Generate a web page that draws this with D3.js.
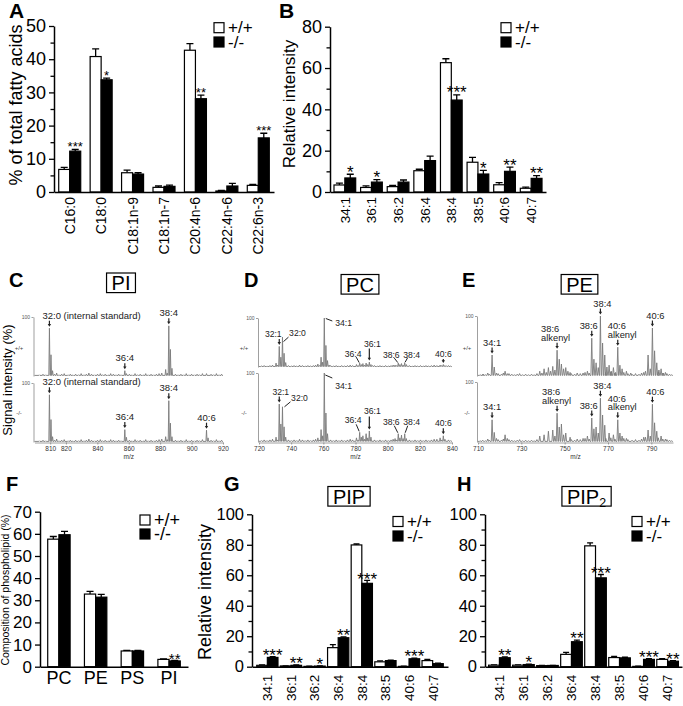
<!DOCTYPE html>
<html><head><meta charset="utf-8">
<script src="https://cdn.jsdelivr.net/npm/d3@7/dist/d3.min.js"></script>
<style>html,body{margin:0;padding:0;background:#fff}svg{display:block}</style>
</head><body>
<svg id="fig" width="683" height="706" xmlns="http://www.w3.org/2000/svg"></svg>
<script>
// ================= DATA =================
const legendLabels = ["+/+", "-/-"];

// A: fatty acid composition (% of total fatty acids)
const faCategories = ["C16:0","C18:0","C18:1n-9","C18:1n-7","C20:4n-6","C22:4n-6","C22:6n-3"];
const faWT    = [6.8, 40.8, 5.8, 1.4, 42.7, 0.3, 2.0];
const faWTErr = [0.6, 2.3, 0.8, 0.4, 2.0, 0.2, 0.3];
const faKO    = [12.3, 33.8, 5.4, 1.7, 28.1, 1.8, 16.3];
const faKOErr = [0.5, 0.5, 0.4, 0.4, 1.1, 0.8, 1.4];
const faSig   = ["***","*","","","**","","***"];
const faTicks = [0,10,20,30,40,50];
const faMinor = [5,15,25,35,45];

// B: PI molecular species (relative intensity)
const speciesCategories = ["34:1","36:1","36:2","36:4","38:4","38:5","40:6","40:7"];
const piWT    = [3.4, 2.2, 2.6, 10.3, 62.6, 14.4, 3.5, 1.8];
const piWTErr = [0.9, 0.8, 0.6, 0.7, 1.9, 2.4, 1.0, 0.6];
const piKO    = [6.8, 4.8, 4.8, 15.2, 44.5, 8.7, 10.0, 6.6];
const piKOErr = [1.8, 1.2, 1.0, 2.2, 2.5, 1.8, 2.0, 1.3];
const piSig   = ["*","*","","","***","*","**","**"];
const piTicks = [0,20,40,60,80];
const piMinor = [10,30,50,70];

// F: phospholipid composition (%)
const plCategories = ["PC","PE","PS","PI"];
const plWT    = [57.6, 32.8, 7.1, 3.3];
const plWTErr = [1.2, 1.2, 0.3, 0.2];
const plKO    = [59.6, 31.4, 7.1, 2.6];
const plKOErr = [1.5, 1.3, 0.3, 0.2];
const plSig   = ["","","","**"];
const plTicks = [0,10,20,30,40,50,60,70];

// G: PIP species
const pipWT    = [0.9, 0.5, 0.2, 12.5, 79.9, 3.2, 0.2, 4.0];
const pipWTErr = [0.2, 0.1, 0.1, 2.0, 0.6, 0.6, 0.1, 0.8];
const pipKO    = [6.1, 0.9, 0.4, 19.0, 54.7, 4.0, 5.2, 2.0];
const pipKOErr = [0.5, 0.2, 0.2, 0.6, 2.0, 0.3, 0.4, 0.3];
const pipSig   = ["***","**","*","**","***","","***",""];

// H: PIP2 species
const pip2WT    = [1.0, 1.0, 0.7, 8.1, 79.3, 6.0, 0.2, 4.8];
const pip2WTErr = [0.2, 0.2, 0.1, 1.3, 2.0, 0.7, 0.1, 0.5];
const pip2KO    = [5.9, 1.4, 0.8, 16.4, 58.3, 5.8, 4.8, 3.6];
const pip2KOErr = [0.6, 0.3, 0.1, 1.1, 2.2, 0.4, 0.5, 0.4];
const pip2Sig   = ["**","*","","**","***","","***","**"];
const pipTicks = [0,20,40,60,80,100];
const pipMinor = [10,30,50,70,90];

// C: PI mass spectra [m/z, % intensity]
const piSpecWT = [[809.5,81],[810.5,36],[811.5,9],[857.5,9],[858.5,4],[883.5,11],[884.5,5],[885.5,85],[886.5,45],[887.5,13],[909.5,4]];
const piSpecKO = [[809.5,80],[810.5,38],[811.5,9],[857.5,21],[858.5,8],[883.5,9],[884.5,4],[885.5,70],[886.5,32],[887.5,9],[909.5,20],[910.5,7]];
const piNoise  = [[803.1,2],[805.4,3],[807.2,2],[812.8,3],[814.1,5],[815.6,2],[817.3,3],[818.9,4],[821.4,2],[822.8,3],[824.5,2],[826.2,3],[828,2],[829.7,4],[831.5,2],[833,3],[834.6,5],[836.3,3],[838.2,2],[840.1,3],[841.9,4],[843.4,2],[845,3],[846.8,2],[848.5,4],[850.2,3],[851.9,2],[853.6,3],[855.1,2],[860.4,3],[862.1,2],[864,4],[865.7,2],[867.3,3],[869.1,2],[870.8,4],[872.4,2],[874.2,3],[875.9,2],[877.6,3],[879.3,4],[881,5],[889.7,3],[891.4,2],[893.2,3],[895,2],[896.6,4],[898.3,2],[900,3],[901.8,2],[903.5,3],[905.1,2],[906.9,4],[912.4,3],[914,2],[915.8,4],[917.5,2],[919.1,3]];
const piSpecTicks = [810,820,840,860,880,900,920];

// D: PC mass spectra
const pcSpecWT = [[730.6,8],[731.6,4],[732.6,42],[733.6,20],[734.6,61],[735.6,28],[736.6,9],[756.6,6],[757.6,3],[758.6,20],[759.6,10],[760.6,100],[761.6,44],[762.6,13],[763.6,4],[780.6,5],[781.6,3],[782.6,8],[783.6,5],[784.6,7],[785.6,4],[786.6,8],[787.6,5],[788.6,10],[789.6,5],[790.6,3],[804.6,4],[805.6,3],[806.6,8],[807.6,5],[808.6,7],[809.6,4],[810.6,9],[811.6,5],[812.6,2],[830.6,3],[832.6,4],[833.6,3],[834.6,5],[835.6,3],[836.6,2]];
const pcSpecKO = [[730.6,7],[731.6,3],[732.6,55],[733.6,26],[734.6,51],[735.6,22],[736.6,7],[756.6,6],[757.6,3],[758.6,18],[759.6,9],[760.6,100],[761.6,42],[762.6,12],[780.6,6],[781.6,3],[782.6,14],[783.6,7],[784.6,9],[785.6,4],[786.6,12],[787.6,6],[788.6,16],[789.6,7],[804.6,5],[805.6,3],[806.6,12],[807.6,6],[808.6,10],[809.6,5],[810.6,12],[811.6,5],[830.6,4],[832.6,6],[833.6,3],[834.6,9],[835.6,4]];
const pcNoise  = [[721.5,2],[723.2,3],[725,2],[726.8,3],[728.4,4],[738.3,3],[740.1,2],[741.8,3],[743.5,2],[745.2,4],[747,3],[748.7,2],[750.4,3],[752.1,2],[753.8,3],[755.2,4],[764.5,3],[766.2,2],[768,3],[769.7,2],[771.4,3],[773.1,2],[775,3],[776.7,4],[778.2,3],[791.8,3],[793.5,2],[795.2,3],[797,2],[798.7,3],[800.4,2],[802.1,3],[803.4,4],[813.5,3],[815.2,2],[817,3],[818.7,2],[820.4,3],[822.1,2],[823.8,3],[825.5,2],[827.2,3],[828.9,4],[837.8,3],[839.2,2]];
const pcSpecTicks = [720,740,760,780,800,820,840];

// E: PE mass spectra
const peSpecWT = [[712.5,3],[714.5,5],[716.5,35],[717.5,15],[718.5,5],[722.5,8],[723.5,4],[738.5,8],[739.5,5],[740.5,12],[741.5,6],[742.5,14],[743.5,8],[744.5,16],[745.5,10],[746.5,43],[747.5,28],[748.5,20],[749.5,12],[750.5,14],[751.5,8],[752.5,6],[758.5,5],[760.5,8],[762.5,63],[763.5,28],[764.5,22],[765.5,14],[766.5,100],[767.5,55],[768.5,35],[769.5,15],[770.5,18],[771.5,8],[772.5,14],[773.5,6],[774.5,48],[775.5,18],[776.5,12],[778.5,8],[780.5,5],[786.5,6],[788.5,35],[789.5,12],[790.5,80],[791.5,42],[792.5,22],[793.5,10],[794.5,12],[795.5,5],[796.5,6]];
const peSpecKO = [[714.5,5],[716.5,37],[717.5,16],[718.5,6],[722.5,12],[723.5,6],[738.5,10],[740.5,12],[742.5,18],[744.5,20],[745.5,10],[746.5,48],[747.5,25],[748.5,30],[749.5,12],[750.5,15],[752.5,8],[758.5,6],[760.5,10],[762.5,40],[763.5,22],[764.5,25],[765.5,15],[766.5,73],[767.5,45],[768.5,28],[770.5,15],[772.5,12],[774.5,37],[775.5,15],[776.5,10],[778.5,6],[786.5,8],[788.5,20],[789.5,10],[790.5,63],[791.5,32],[792.5,18],[794.5,10],[796.5,5]];
const peNoise  = [[711,2],[712.2,3],[713.4,2],[715.2,3],[719.3,4],[720.8,3],[721.7,5],[724.3,4],[725.6,3],[726.8,2],[728.1,3],[729.2,4],[730.6,2],[732,3],[733.3,2],[734.7,3],[735.9,2],[737.2,4],[753.1,4],[754.6,3],[755.8,5],[757.2,4],[759.4,6],[761.3,5],[769,6],[771.3,7],[773.2,5],[777.3,6],[779.2,4],[781.1,3],[782.7,4],[784.3,3],[785.5,5],[787.3,8],[793.2,7],[795.3,5],[797.2,4],[798.4,3],[799.4,2]];
const peSpecTicks = [710,730,750,770,790];

// ================= DRAW =================
const FONT = "'Liberation Sans', Arial, Helvetica, sans-serif";
const svg = d3.select("#fig").attr("font-family", FONT);
svg.append("rect").attr("width", 683).attr("height", 706).attr("fill", "#fff");

function addText(x, y, s, size, o = {}) {
  const t = svg.append("text").attr("x", x).attr("y", y).attr("font-size", size).text(s);
  if (o.anchor) t.attr("text-anchor", o.anchor);
  if (o.weight) t.attr("font-weight", o.weight);
  if (o.rot) t.attr("transform", `rotate(-90,${x},${y})`);
  if (o.fill) t.attr("fill", o.fill);
  return t;
}

function barPanel(c) {
  const g = svg.append("g");
  const x = d3.scaleBand().domain(c.cats).range([c.x0, c.x1]).paddingInner(c.pi).paddingOuter(c.po);
  const sub = d3.scaleBand().domain(["wt", "ko"]).range([0, x.bandwidth()]);
  const y = d3.scaleLinear().domain([0, c.ymax]).range([c.yb, c.yt]);
  const rows = [];
  c.cats.forEach((cat, i) => {
    rows.push({cat, k: "wt", v: c.wt[i], e: c.wtErr[i], sig: ""});
    rows.push({cat, k: "ko", v: c.ko[i], e: c.koErr[i], sig: c.sig[i]});
  });
  const bw = sub.bandwidth();
  const bx = d => x(d.cat) + sub(d.k);
  const mx = d => bx(d) + bw / 2;
  g.selectAll("path.err").data(rows).join("path").attr("class", "err")
    .attr("d", d => `M${mx(d)},${y(d.v)}V${y(d.v + d.e)}M${mx(d) - c.cap},${y(d.v + d.e)}H${mx(d) + c.cap}`)
    .attr("stroke", "#000").attr("stroke-width", 1.3).attr("fill", "none");
  g.selectAll("rect.bar").data(rows).join("rect").attr("class", "bar")
    .attr("x", bx).attr("y", d => y(d.v)).attr("width", bw).attr("height", d => y(0) - y(d.v))
    .attr("fill", d => d.k === "wt" ? "#fff" : "#000").attr("stroke", "#000").attr("stroke-width", 1.2);
  g.selectAll("text.sig").data(rows.filter(d => d.sig)).join("text").attr("class", "sig")
    .attr("x", mx).attr("y", d => y(d.v + d.e) - c.sigGap + 0.43 * c.sigF)
    .attr("text-anchor", "middle").attr("font-size", c.sigF).attr("fill", "#000").text(d => d.sig);
  const ya = g.append("g").attr("transform", `translate(${c.x0},0)`)
    .call(d3.axisLeft(y).tickValues(c.major).tickSize(5).tickSizeOuter(0).tickPadding(3));
  ya.attr("font-family", FONT).attr("font-size", c.tickF);
  ya.select(".domain").attr("stroke-width", 1.5);
  ya.selectAll(".tick line").attr("stroke-width", 1.3);
  if (c.minor) {
    const m = g.append("g").attr("transform", `translate(${c.x0},0)`)
      .call(d3.axisLeft(y).tickValues(c.minor).tickSize(3.5).tickFormat(""));
    m.select(".domain").remove();
    m.selectAll("line").attr("stroke-width", 1.3);
  }
  const xa = g.append("g").attr("transform", `translate(0,${c.yb})`)
    .call(d3.axisBottom(x).tickSize(0).tickSizeOuter(0));
  xa.attr("font-family", FONT).attr("font-size", c.catF);
  xa.select(".domain").attr("stroke-width", 1.5);
  if (c.rot) {
    xa.selectAll("text").attr("transform", "rotate(-90)").attr("x", -c.catPad).attr("y", 0)
      .attr("dy", "0.36em").attr("text-anchor", "end");
  } else {
    xa.selectAll("text").attr("y", c.catPad).attr("dy", "0.71em");
  }
  return {x, y};
}

function legend(x, y1, y2, size, fs) {
  [[y1, "#fff", legendLabels[0]], [y2, "#000", legendLabels[1]]].forEach(([yc, f, t]) => {
    svg.append("rect").attr("x", x).attr("y", yc - size / 2).attr("width", size).attr("height", size)
      .attr("fill", f).attr("stroke", "#000").attr("stroke-width", 1.2);
    svg.append("text").attr("x", x + size + 4).attr("y", yc).attr("dy", "0.33em").attr("font-size", fs).text(t);
  });
}

function boxTitle(cx, cy, fs, parts) {
  const t = svg.append("text").attr("x", cx).attr("y", cy).attr("dy", "0.36em")
    .attr("text-anchor", "middle").attr("font-size", fs);
  parts.forEach(p => {
    const ts = t.append("tspan").text(p.s);
    if (p.sub) ts.attr("font-size", fs * 0.62).attr("dy", fs * 0.18);
  });
  const bb = t.node().getBBox();
  svg.append("rect").attr("x", bb.x - 5).attr("y", cy - fs * 0.5).attr("width", bb.width + 10)
    .attr("height", fs * 0.98).attr("fill", "none").attr("stroke", "#000").attr("stroke-width", 1.2);
}

function spectrum(c) {
  const x = d3.scaleLinear().domain(c.domain).range(c.range);
  const ys = [];
  c.traces.forEach((tr, ti) => {
    const y = d3.scaleLinear().domain([0, 100]).range([tr.y0, tr.y100]);
    ys.push(y);
    const all = tr.peaks.concat(c.noise).sort((a, b) => a[0] - b[0]);
    const pts = [[c.domain[0], 1]];
    all.forEach(([m, h]) => { pts.push([m - 0.38, 1], [m, h], [m + 0.38, 1]); });
    pts.push([c.domain[1], 1]);
    svg.append("path")
      .attr("d", d3.line().x(d => x(d[0])).y(d => y(d[1]))(pts.filter(p => p[0] >= c.domain[0] && p[0] <= c.domain[1])))
      .attr("fill", "none").attr("stroke", "#7a7a7a").attr("stroke-width", 0.9).attr("stroke-linejoin", "round");
    const ax = svg.append("g").attr("transform", `translate(${c.range[0] - 1},0)`)
      .call(d3.axisLeft(y).tickValues([100]).tickSize(2).tickSizeOuter(0).tickPadding(1.5));
    ax.attr("font-size", 5).attr("font-family", FONT);
    ax.selectAll("path,line").attr("stroke", "#777").attr("stroke-width", 0.7);
    ax.selectAll("text").attr("fill", "#555");
    addText(c.gx, c.gy[ti], legendLabels[ti], 6, {anchor: "middle", fill: "#444"}).attr("dy", "0.35em");
  });
  const bt = c.traces[c.traces.length - 1];
  const xa = svg.append("g").attr("transform", `translate(0,${bt.y0 + 0.5})`)
    .call(d3.axisBottom(x).tickValues(c.ticks).tickSize(2).tickSizeOuter(0).tickPadding(1.5));
  xa.attr("font-size", 6.5).attr("font-family", FONT);
  xa.selectAll("path,line").attr("stroke", "#777").attr("stroke-width", 0.7);
  xa.selectAll("text").attr("fill", "#333");
  addText((c.range[0] + c.range[1]) / 2, 459, "m/z", 6.5, {anchor: "middle", fill: "#333"});
  // annotations
  const fs = c.annF;
  c.ann.forEach(a => {
    const tr = c.traces[a.tr], y = ys[a.tr];
    const pk = tr.peaks.find(p => Math.abs(p[0] - a.mz) < 0.05);
    const px = x(a.mz), top = y(pk[1]);
    const lx = a.lx || 0, anchor = a.anchor || "middle";
    let base;
    if ((a.type || "v") === "v") {
      const len = a.len || 6, tip = top - 1.5, at = tip - len;
      svg.append("line").attr("x1", px).attr("x2", px).attr("y1", at).attr("y2", tip - 2)
        .attr("stroke", "#222").attr("stroke-width", 1.2);
      svg.append("path").attr("d", `M${px - 1.7},${tip - 2.8}L${px + 1.7},${tip - 2.8}L${px},${tip}Z`).attr("fill", "#222");
      base = at - 2;
    } else {
      const l = a.l;
      svg.append("line").attr("x1", px + l[0]).attr("y1", top + l[1]).attr("x2", px + l[2]).attr("y2", top + l[3])
        .attr("stroke", "#222").attr("stroke-width", 1);
      base = top + a.ly;
    }
    a.t.forEach((s, i) => {
      svg.append("text").attr("x", px + lx).attr("y", base - (a.t.length - 1 - i) * 8.3)
        .attr("text-anchor", anchor).attr("font-size", fs).attr("fill", "#222").text(s);
    });
  });
}

// ---------- Panel A ----------
barPanel({cats: faCategories, wt: faWT, wtErr: faWTErr, ko: faKO, koErr: faKOErr, sig: faSig,
  x0: 54, x1: 274, yb: 192, yt: 26, ymax: 50, pi: 0.3, po: 0.15, major: faTicks, minor: faMinor,
  tickF: 18, catF: 14, rot: true, catPad: 5, cap: 3.5, sigF: 13, sigGap: 4});
addText(22, 105, "% of total fatty acids", 18, {anchor: "middle", rot: true});
legend(214, 27.7, 42, 10, 17);
addText(9, 18, "A", 21, {weight: "bold"});

// ---------- Panel B ----------
barPanel({cats: speciesCategories, wt: piWT, wtErr: piWTErr, ko: piKO, koErr: piKOErr, sig: piSig,
  x0: 330, x1: 546, yb: 192, yt: 26.7, ymax: 80, pi: 0.185, po: 0.15, major: piTicks, minor: piMinor,
  tickF: 18, catF: 13.5, rot: true, catPad: 5, cap: 3.5, sigF: 17, sigGap: 4});
addText(295, 104, "Relative intensity", 17, {anchor: "middle", rot: true});
legend(501, 27.7, 42, 10, 17);
addText(279, 18, "B", 21, {weight: "bold"});

// ---------- Panel C ----------
addText(9, 287, "C", 20, {weight: "bold"});
boxTitle(121, 283, 20, [{s: "PI"}]);
addText(12, 380, "Signal intensity (%)", 13, {anchor: "middle", rot: true});
spectrum({domain: [800, 920], range: [34.5, 223], ticks: piSpecTicks, noise: piNoise, gx: 19, gy: [348, 413], annF: 9.5,
  traces: [{peaks: piSpecWT, y0: 376, y100: 317}, {peaks: piSpecKO, y0: 442, y100: 383}],
  ann: [
    {tr: 0, mz: 809.5, t: ["32:0 (internal standard)"], anchor: "start", lx: -7},
    {tr: 0, mz: 857.5, t: ["36:4"]},
    {tr: 0, mz: 885.5, t: ["38:4"]},
    {tr: 1, mz: 809.5, t: ["32:0 (internal standard)"], anchor: "start", lx: -7},
    {tr: 1, mz: 857.5, t: ["36:4"]},
    {tr: 1, mz: 885.5, t: ["38:4"]},
    {tr: 1, mz: 909.5, t: ["40:6"]}
  ]});

// ---------- Panel D ----------
addText(244, 287, "D", 20, {weight: "bold"});
boxTitle(360, 284.5, 20, [{s: "PC"}]);
spectrum({domain: [720, 840], range: [259, 452], ticks: pcSpecTicks, noise: pcNoise, gx: 244, gy: [348, 413], annF: 8.6,
  traces: [{peaks: pcSpecWT, y0: 367, y100: 318}, {peaks: pcSpecKO, y0: 442, y100: 373}],
  ann: [
    {tr: 0, mz: 732.6, t: ["32:1"], lx: -6},
    {tr: 0, mz: 734.6, t: ["32:0"], type: "d", lx: 15, ly: -1, l: [1, 4.5, 6, 0]},
    {tr: 0, mz: 760.6, t: ["34:1"], type: "d", anchor: "start", lx: 11, ly: 8, l: [1.5, 0.5, 8, 3]},
    {tr: 0, mz: 782.6, t: ["36:4"], type: "d", lx: -6.5, ly: -6, l: [-3.5, -6, -0.5, -0.5]},
    {tr: 0, mz: 788.6, t: ["36:1"], lx: 3, len: 12},
    {tr: 0, mz: 806.6, t: ["38:6"], type: "d", lx: -7, ly: -5, l: [-4, -5, -0.5, -0.5]},
    {tr: 0, mz: 810.6, t: ["38:4"], type: "d", lx: 7, ly: -5, l: [3, -5, 0.5, -0.5]},
    {tr: 0, mz: 834.6, t: ["40:6"], len: 4},
    {tr: 1, mz: 732.6, t: ["32:1"], lx: 1.5},
    {tr: 1, mz: 734.6, t: ["32:0"], type: "d", lx: 17, ly: -6, l: [2, 0, 8, -5]},
    {tr: 1, mz: 760.6, t: ["34:1"], type: "d", anchor: "start", lx: 11, ly: 16, l: [1, 2, 8, 5]},
    {tr: 1, mz: 782.6, t: ["36:4"], type: "d", lx: -6.5, ly: -9, l: [-3.5, -8, -0.5, -1]},
    {tr: 1, mz: 788.6, t: ["36:1"], lx: 3, len: 13},
    {tr: 1, mz: 806.6, t: ["38:6"], type: "d", lx: -7, ly: -9, l: [-4, -8, -0.5, -1]},
    {tr: 1, mz: 810.6, t: ["38:4"], type: "d", lx: 7, ly: -9, l: [3, -8, 0.5, -1]},
    {tr: 1, mz: 834.6, t: ["40:6"]}
  ]});

// ---------- Panel E ----------
addText(462, 287, "E", 20, {weight: "bold"});
boxTitle(579.5, 284.5, 20, [{s: "PE"}]);
spectrum({domain: [710, 800], range: [478, 673], ticks: peSpecTicks, noise: peNoise, gx: 467, gy: [348, 413], annF: 9.3,
  traces: [{peaks: peSpecWT, y0: 376, y100: 316}, {peaks: peSpecKO, y0: 442, y100: 382}],
  ann: [
    {tr: 0, mz: 716.5, t: ["34:1"]},
    {tr: 0, mz: 746.5, t: ["38:6", "alkenyl"], anchor: "start", lx: -16},
    {tr: 0, mz: 762.5, t: ["38:6"], lx: -3},
    {tr: 0, mz: 766.5, t: ["38:4"], lx: 2},
    {tr: 0, mz: 774.5, t: ["40:6", "alkenyl"], anchor: "start", lx: -10},
    {tr: 0, mz: 790.5, t: ["40:6"], lx: 3},
    {tr: 1, mz: 716.5, t: ["34:1"]},
    {tr: 1, mz: 746.5, t: ["38:6", "alkenyl"], anchor: "start", lx: -15},
    {tr: 1, mz: 762.5, t: ["38:6"], lx: -3},
    {tr: 1, mz: 766.5, t: ["38:4"], lx: 2},
    {tr: 1, mz: 774.5, t: ["40:6", "alkenyl"], anchor: "start", lx: -10},
    {tr: 1, mz: 790.5, t: ["40:6"], lx: 3}
  ]});

// ---------- Panel F ----------
barPanel({cats: plCategories, wt: plWT, wtErr: plWTErr, ko: plKO, koErr: plKOErr, sig: plSig,
  x0: 40, x1: 188, yb: 666.7, yt: 511.7, ymax: 70, pi: 0.39, po: 0.21, major: plTicks, minor: null,
  tickF: 17, catF: 18, rot: false, catPad: 5, cap: 3.5, sigF: 15, sigGap: 3});
addText(8.5, 590, "Composition of phospholipid (%)", 10.5, {anchor: "middle", rot: true});
legend(140, 520, 534, 10, 18);
addText(6, 491, "F", 20, {weight: "bold"});

// ---------- Panel G ----------
barPanel({cats: speciesCategories, wt: pipWT, wtErr: pipWTErr, ko: pipKO, koErr: pipKOErr, sig: pipSig,
  x0: 252, x1: 448, yb: 666.7, yt: 514.3, ymax: 100, pi: 0.1, po: 0.2, major: pipTicks, minor: pipMinor,
  tickF: 16.5, catF: 13.5, rot: true, catPad: 8, cap: 3, sigF: 17, sigGap: 3});
addText(211, 592, "Relative intensity", 18, {anchor: "middle", rot: true});
legend(393, 521.5, 536, 10, 17);
boxTitle(349, 496.5, 20, [{s: "PIP"}]);
addText(224, 491, "G", 20, {weight: "bold"});

// ---------- Panel H ----------
barPanel({cats: speciesCategories, wt: pip2WT, wtErr: pip2WTErr, ko: pip2KO, koErr: pip2KOErr, sig: pip2Sig,
  x0: 485, x1: 682, yb: 666.7, yt: 514.3, ymax: 100, pi: 0.1, po: 0.15, major: pipTicks, minor: pipMinor,
  tickF: 16.5, catF: 13.5, rot: true, catPad: 8, cap: 3, sigF: 17, sigGap: 3});
legend(632, 521.5, 536, 10, 17);
boxTitle(586.5, 496.5, 20, [{s: "PIP"}, {s: "2", sub: true}]);
addText(457, 491, "H", 20, {weight: "bold"});
</script>
</body></html>
